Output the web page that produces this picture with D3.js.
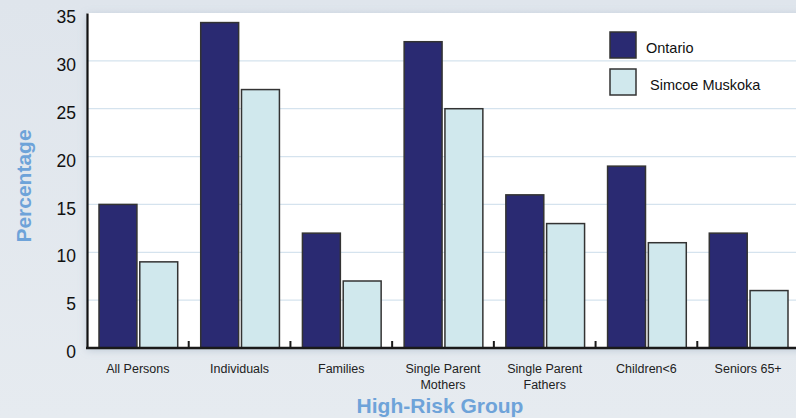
<!DOCTYPE html>
<html>
<head>
<meta charset="utf-8">
<script src="https://cdn.jsdelivr.net/npm/d3@7"></script>
<style>
  html, body { margin: 0; padding: 0; background: #e3e8ee; }
  svg { display: block; }
  text { font-family: "Liberation Sans", Arial, Helvetica, sans-serif; }
</style>
</head>
<body>
<svg id="chart" width="796" height="418"></svg>
<script>
// Share of people at risk, by high-risk group
const categories = [
  ["All Persons"],
  ["Individuals"],
  ["Families"],
  ["Single Parent", "Mothers"],
  ["Single Parent", "Fathers"],
  ["Children<6"],
  ["Seniors 65+"]
];
const seriesNames = ["Ontario", "Simcoe Muskoka"];
const ontario = [15, 34, 12, 32, 16, 19, 12];
const simcoeMuskoka = [9, 27, 7, 25, 13, 11, 6];
const yTicks = [0, 5, 10, 15, 20, 25, 30, 35];

const colors = ["#2a2a72", "#d0e8ed"];
const svg = d3.select("#chart");
const W = 796, H = 418;
const m = { left: 87, top: 13, right: -3, bottom: 70 };
const plotW = W - m.left - m.right;
const plotH = H - m.top - m.bottom;

// background gradient and plot shadow
const defs = svg.append("defs");
const bg = defs.append("linearGradient").attr("id", "bg").attr("x1", 0).attr("x2", 0).attr("y1", 0).attr("y2", 1);
bg.append("stop").attr("offset", "0%").attr("stop-color", "#dfe5ec");
bg.append("stop").attr("offset", "100%").attr("stop-color", "#e6ebf0");
const sh = defs.append("filter").attr("id", "shadow").attr("x", "-10%").attr("y", "-10%").attr("width", "120%").attr("height", "130%");
sh.append("feDropShadow").attr("dx", 0).attr("dy", 2).attr("stdDeviation", 4).attr("flood-color", "#8a9db3").attr("flood-opacity", 0.45);

svg.append("rect").attr("width", W).attr("height", H).attr("fill", "url(#bg)");

const g = svg.append("g").attr("transform", `translate(${m.left},${m.top})`);

g.append("rect").attr("x", 0).attr("y", 0).attr("width", plotW + 10).attr("height", plotH)
  .attr("fill", "#fff").attr("filter", "url(#shadow)");

const y = d3.scaleLinear().domain([0, 35]).range([plotH, 0]);
const x0 = d3.scaleBand().domain(d3.range(categories.length)).range([0, plotW]).paddingInner(0).paddingOuter(0);
const x1 = d3.scaleBand().domain(d3.range(seriesNames.length)).range([12, x0.bandwidth() - 11]).paddingInner(0.07);

// gridlines
g.append("g").selectAll("line").data(yTicks.filter(t => t > 0 && t < 35)).join("line")
  .attr("x1", 0).attr("x2", plotW + 10)
  .attr("y1", d => y(d)).attr("y2", d => y(d))
  .attr("stroke", "#d5e3ee").attr("stroke-width", 1.2);

// bars
const series = [ontario, simcoeMuskoka];
const groups = g.append("g").selectAll("g").data(categories).join("g")
  .attr("transform", (d, i) => `translate(${x0(i)},0)`);
groups.selectAll("rect").data((d, i) => series.map((s, k) => ({ k, v: s[i] }))).join("rect")
  .attr("x", d => x1(d.k))
  .attr("y", d => y(d.v))
  .attr("width", x1.bandwidth())
  .attr("height", d => y(0) - y(d.v))
  .attr("fill", d => colors[d.k])
  .attr("stroke", "#333")
  .attr("stroke-width", 1.5);

// y axis
const yAxis = d3.axisLeft(y).tickValues(yTicks).tickSize(0).tickPadding(11);
const yg = g.append("g").call(yAxis);
yg.select(".domain").attr("stroke", "#111").attr("stroke-width", 2.2);
yg.selectAll("text").attr("font-size", 17.5).attr("fill", "#111").attr("dy", "0.55em");

// x axis with inward tick marks between groups
g.append("line").attr("x1", -1).attr("x2", plotW + 10).attr("y1", plotH).attr("y2", plotH)
  .attr("stroke", "#1a1a1a").attr("stroke-width", 2.5);
g.append("g").selectAll("line").data(d3.range(1, categories.length)).join("line")
  .attr("x1", i => x0(i)).attr("x2", i => x0(i))
  .attr("y1", plotH).attr("y2", plotH - 7)
  .attr("stroke", "#1a1a1a").attr("stroke-width", 2);

// category labels
const lab = g.append("g").selectAll("text").data(categories).join("text")
  .attr("x", (d, i) => x0(i) + x0.bandwidth() / 2)
  .attr("y", plotH + 25)
  .attr("text-anchor", "middle")
  .attr("font-size", 12.5)
  .attr("fill", "#222");
lab.selectAll("tspan").data(d => d).join("tspan")
  .attr("x", function () { return d3.select(this.parentNode).attr("x"); })
  .attr("dy", (d, j) => j === 0 ? 0 : 15.5)
  .text(d => d);

// axis titles
svg.append("text").attr("x", 440).attr("y", 413).attr("text-anchor", "middle")
  .attr("font-size", 21).attr("font-weight", "bold").attr("fill", "#6ea3d9")
  .text("High-Risk Group");
svg.append("text").attr("transform", "translate(31,186) rotate(-90)").attr("text-anchor", "middle")
  .attr("font-size", 21).attr("font-weight", "bold").attr("fill", "#6ea3d9")
  .text("Percentage");

// legend
const legend = svg.append("g");
const legendRows = [{ y: 32, tx: 646, ty: 53 }, { y: 69, tx: 650, ty: 90 }];
legend.selectAll("rect").data(seriesNames).join("rect")
  .attr("x", 610).attr("y", (d, i) => legendRows[i].y)
  .attr("width", 26).attr("height", 26)
  .attr("fill", (d, i) => colors[i]).attr("stroke", "#333").attr("stroke-width", 1.5);
legend.selectAll("text").data(seriesNames).join("text")
  .attr("x", (d, i) => legendRows[i].tx).attr("y", (d, i) => legendRows[i].ty)
  .attr("font-size", 14.5).attr("fill", "#111")
  .text(d => d);
</script>
</body>
</html>
